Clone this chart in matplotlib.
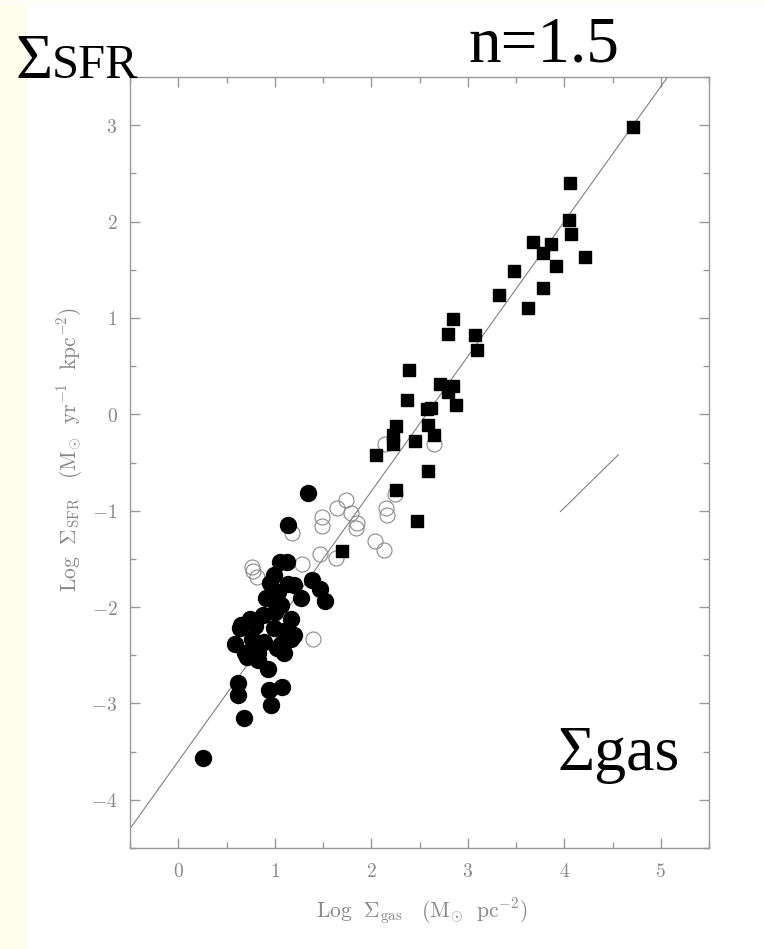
import matplotlib
matplotlib.use("Agg")
import matplotlib.pyplot as plt
from matplotlib.patches import Rectangle
import numpy as np

plt.rcParams['mathtext.fontset'] = 'cm'

# ---- data ----
spiral_x = [1.34, 1.14, 1.05, 1.13, 0.99, 1.39, 1.47, 1.52, 1.20, 1.27, 0.91, 1.03, 1.06,
            0.74, 0.64, 0.88, 1.17, 1.20, 0.99, 0.59, 0.76, 0.89, 1.06, 0.69, 0.83, 1.10,
            0.71, 0.93, 0.62, 0.62, 1.08, 0.94, 0.96, 0.68, 0.26, 0.65, 0.83, 1.17, 0.93,
            1.14, 0.95, 1.00, 1.10, 0.80, 1.02]
spiral_y = [-0.82, -1.15, -1.53, -1.53, -1.67, -1.72, -1.81, -1.94, -1.77, -1.91, -1.91, -1.84, -1.98,
            -2.12, -2.22, -2.08, -2.12, -2.29, -2.22, -2.38, -2.33, -2.36, -2.38, -2.48, -2.48, -2.48,
            -2.52, -2.64, -2.79, -2.91, -2.83, -2.86, -3.02, -3.15, -3.57, -2.19, -2.55, -2.33, -1.91,
            -1.76, -1.75, -2.05, -2.25, -2.20, -2.42]

center_x = [1.74, 1.65, 1.79, 1.85, 1.84, 1.49, 1.49, 2.15, 2.16, 2.04, 2.13, 2.25, 1.18,
            1.47, 1.63, 1.28, 0.76, 0.77, 0.82, 1.40, 2.14, 2.65]
center_y = [-0.89, -0.97, -1.02, -1.13, -1.18, -1.07, -1.16, -0.97, -1.04, -1.31, -1.41, -0.83, -1.23,
            -1.45, -1.49, -1.55, -1.58, -1.63, -1.69, -2.33, -0.31, -0.31]

starburst_x = [4.71, 4.06, 4.05, 4.07, 3.68, 3.86, 3.78, 3.91, 4.21, 3.48, 3.32, 3.78, 3.62,
               2.85, 2.80, 3.08, 3.10, 2.39, 2.71, 2.85, 2.80, 2.37, 2.88, 2.62, 2.58, 2.59,
               2.26, 2.23, 2.23, 2.65, 2.45, 2.05, 2.59, 2.26, 2.47, 1.70]
starburst_y = [2.98, 2.40, 2.02, 1.87, 1.79, 1.77, 1.67, 1.54, 1.63, 1.49, 1.24, 1.31, 1.10,
               0.99, 0.83, 0.82, 0.67, 0.46, 0.31, 0.29, 0.23, 0.15, 0.10, 0.07, 0.05, -0.11,
               -0.12, -0.21, -0.31, -0.21, -0.28, -0.42, -0.59, -0.79, -1.11, -1.42]

fit_intercept = -3.6
fit_slope = 1.4
ref_x = [3.96, 4.56]
ref_y = [-1.01, -0.42]

xticks = [0, 1, 2, 3, 4, 5]
xticklabels = ['$0$', '$1$', '$2$', '$3$', '$4$', '$5$']
yticks = [-4, -3, -2, -1, 0, 1, 2, 3]
yticklabels = ['$-4$', '$-3$', '$-2$', '$-1$', '$0$', '$1$', '$2$', '$3$']

# ---- figure ----
W, H = 765, 949
fig = plt.figure(figsize=(W / 100, H / 100), dpi=100)
fig.patch.set_facecolor('white')
fig.add_artist(Rectangle((0, 0), 27 / W, 1, transform=fig.transFigure,
                         facecolor='#FFFEEC', edgecolor='none', zorder=0))
fig.add_artist(Rectangle((0, 1 - 5 / H), 1, 5 / H, transform=fig.transFigure,
                         facecolor='#FFFEF6', edgecolor='none', zorder=0))

ax = fig.add_axes([130 / W, 1 - 848 / H, (709 - 130) / W, (848 - 77) / H])
ax.set_xlim(-0.5, 5.5)
ax.set_ylim(-4.5, 3.5)

grey = '#999999'
for s in ax.spines.values():
    s.set_color(grey)
    s.set_linewidth(1.0)

xx = np.array([-0.5, 5.5])
ax.plot(xx, fit_intercept + fit_slope * xx, color='#808080', lw=0.8, zorder=2)
ax.plot(ref_x, ref_y, color='#808080', lw=0.8, zorder=2)

ax.plot(center_x, center_y, linestyle='none', marker='o', markersize=10.8,
        markerfacecolor='none', markeredgecolor='#8a8a8a', markeredgewidth=0.8, zorder=3)
ax.plot(spiral_x, spiral_y, linestyle='none', marker='o', markersize=11.5,
        color='black', zorder=4)
ax.plot(starburst_x, starburst_y, linestyle='none', marker='s', markersize=8.3,
        color='black', zorder=4)

ax.set_xticks(xticks)
ax.set_xticklabels(xticklabels)
ax.set_yticks(yticks)
ax.set_yticklabels(yticklabels)
ax.set_xticks(np.arange(-0.5, 5.6, 0.5), minor=True)
ax.set_yticks(np.arange(-4.5, 3.6, 0.5), minor=True)
ax.tick_params(which='both', direction='in', top=True, right=True, color=grey,
               labelcolor='#888888', labelsize=14)
ax.tick_params(which='major', length=7, width=1.0)
ax.tick_params(which='minor', length=4, width=1.0)
ax.tick_params(axis='x', pad=10)
ax.tick_params(axis='y', pad=9)

ax.set_xlabel(r'$\mathrm{Log}\ \ \Sigma_{\rm gas}\ \ \ (\mathrm{M}_{\odot}\ \ \mathrm{pc}^{-2})$',
              color='#888888', fontsize=15.5)
ax.set_ylabel(r'$\mathrm{Log}\ \ \Sigma_{\rm SFR}\ \ \ (\mathrm{M}_{\odot}\ \ \mathrm{yr}^{-1}\ \ \mathrm{kpc}^{-2})$',
              color='#888888', fontsize=15.5)
ax.xaxis.set_label_coords(0.504, -0.082)
ax.yaxis.set_label_coords(-0.104, 0.517)
ax.xaxis.label.set_va('center')
ax.yaxis.label.set_va('center')

serif = 'Liberation Serif'
fig.text(15 / W, 1 - 78 / H, 'Σ', family=serif, fontsize=46, color='black',
         ha='left', va='baseline')
fig.text(52 / W, 1 - 78 / H, 'SFR', family=serif, fontsize=35, color='black',
         ha='left', va='baseline')
fig.text(468 / W, 1 - 62 / H, 'n=1.5', family=serif, fontsize=47, color='black',
         ha='left', va='baseline')
fig.text(557 / W, 1 - 770 / H, 'Σgas', family=serif, fontsize=46, color='black',
         ha='left', va='baseline')

fig.savefig('out.png', dpi=100)
